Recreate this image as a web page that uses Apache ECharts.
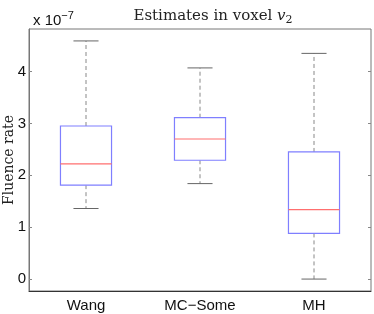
<!DOCTYPE html>
<html>
<head>
<meta charset="utf-8">
<script src="https://cdn.jsdelivr.net/npm/echarts@6/dist/echarts.min.js"></script>
<style>html,body{margin:0;padding:0;background:#fff}#c{width:374px;height:314px}</style>
</head>
<body>
<div id="c"></div>
<script>
// Data (values in units of 1e-7)
var categories = ['Wang', 'MC\u2212Some', 'MH'];
var lowerWhisker = [1.36, 1.84, 0.00];
var q1 = [1.81, 2.29, 0.88];
var median = [2.22, 2.70, 1.34];
var q3 = [2.95, 3.11, 2.45];
var upperWhisker = [4.59, 4.07, 4.35];
var yTicks = [0, 1, 2, 3, 4];

var boxData = categories.map(function (c, i) {
  return [i, lowerWhisker[i], q1[i], median[i], q3[i], upperWhisker[i]];
});

function renderBox(params, api) {
  var i = api.value(0);
  var pLw = api.coord([i, api.value(1)]);
  var pQ1 = api.coord([i, api.value(2)]);
  var pMed = api.coord([i, api.value(3)]);
  var pQ3 = api.coord([i, api.value(4)]);
  var pUw = api.coord([i, api.value(5)]);
  var band = api.size([1, 0])[0];
  var hw = band * 0.224;
  var cw = band * 0.11;
  var x = pMed[0];
  var dashStyle = { stroke: '#888', lineWidth: 1, lineDash: [4, 3] };
  var capStyle = { stroke: '#666', lineWidth: 1 };
  return {
    type: 'group',
    children: [
      { type: 'line', shape: { x1: x, y1: pQ3[1], x2: x, y2: pUw[1] }, style: dashStyle },
      { type: 'line', shape: { x1: x, y1: pQ1[1], x2: x, y2: pLw[1] }, style: dashStyle },
      { type: 'line', shape: { x1: x - cw, y1: pUw[1], x2: x + cw, y2: pUw[1] }, style: capStyle },
      { type: 'line', shape: { x1: x - cw, y1: pLw[1], x2: x + cw, y2: pLw[1] }, style: capStyle },
      { type: 'rect', shape: { x: x - hw, y: pQ3[1], width: 2 * hw, height: pQ1[1] - pQ3[1] },
        style: { fill: '#fff', stroke: '#7f7fff', lineWidth: 1.2 } },
      { type: 'line', shape: { x1: x - hw, y1: pMed[1], x2: x + hw, y2: pMed[1] },
        style: { stroke: '#ff6f6f', lineWidth: 1.2 } }
    ]
  };
}

var chart = echarts.init(document.getElementById('c'), null, { renderer: 'canvas' });
var sans = 'Liberation Sans';
var serif = 'DejaVu Serif';
chart.setOption({
  animation: false,
  backgroundColor: '#fff',
  title: [
    {
      text: 'Estimates in voxel {i|v}{s|2}',
      left: 208, top: 2, textAlign: 'center',
      textStyle: {
        fontFamily: serif, fontSize: 15, fontWeight: 'normal', color: '#222',
        rich: {
          i: { fontFamily: serif, fontSize: 15, fontStyle: 'italic', color: '#222' },
          s: { fontFamily: serif, fontSize: 11, color: '#222', padding: [8, 0, 0, 0] }
        }
      }
    },
    {
      text: 'x 10{s|\u22127}',
      left: 28, top: 5,
      textStyle: {
        fontFamily: sans, fontSize: 15, fontWeight: 'normal', color: '#111',
        rich: { s: { fontFamily: sans, fontSize: 11, color: '#111', padding: [0, 0, 11, 0] } }
      }
    }
  ],
  grid: { left: 29, right: 3, top: 29, bottom: 23, outerBoundsMode: 'none', containLabel: false,
          show: true, borderColor: '#777', borderWidth: 1 },
  xAxis: [
    {
      type: 'category', data: categories, boundaryGap: true, position: 'bottom',
      axisLine: { onZero: false, lineStyle: { color: '#333' } },
      axisTick: { inside: true, alignWithLabel: true, length: 3, lineStyle: { color: '#888' } },
      axisLabel: { fontFamily: sans, fontSize: 15, color: '#111', margin: 7 },
      splitLine: { show: false }
    },
    {
      type: 'category', data: categories, boundaryGap: true, position: 'top',
      axisLine: { show: false, onZero: false },
      axisTick: { inside: true, alignWithLabel: true, length: 3, lineStyle: { color: '#888' } },
      axisLabel: { show: false }
    }
  ],
  yAxis: [
    {
      type: 'value', min: -0.23, max: 4.82, position: 'left',
      name: 'Fluence rate', nameLocation: 'middle', nameGap: 13, nameRotate: 90,
      nameMoveOverlap: false,
      nameTextStyle: { fontFamily: serif, fontSize: 14, color: '#222' },
      axisLine: { show: true, onZero: false, lineStyle: { color: '#777' } },
      axisTick: { show: true, inside: true, length: 3, customValues: yTicks, lineStyle: { color: '#888' } },
      axisLabel: { fontFamily: sans, fontSize: 15, color: '#111', margin: 3, customValues: yTicks },
      splitLine: { show: false }
    },
    {
      type: 'value', min: -0.23, max: 4.82, position: 'right',
      axisLine: { show: false, onZero: false },
      axisTick: { show: true, inside: true, length: 3, customValues: yTicks, lineStyle: { color: '#888' } },
      axisLabel: { show: false, customValues: yTicks },
      splitLine: { show: false }
    }
  ],
  series: [
    {
      type: 'custom', xAxisIndex: 0, yAxisIndex: 0,
      renderItem: renderBox,
      encode: { x: 0, y: [1, 2, 3, 4, 5] },
      data: boxData,
      silent: true
    }
  ]
});
</script>
</body>
</html>
